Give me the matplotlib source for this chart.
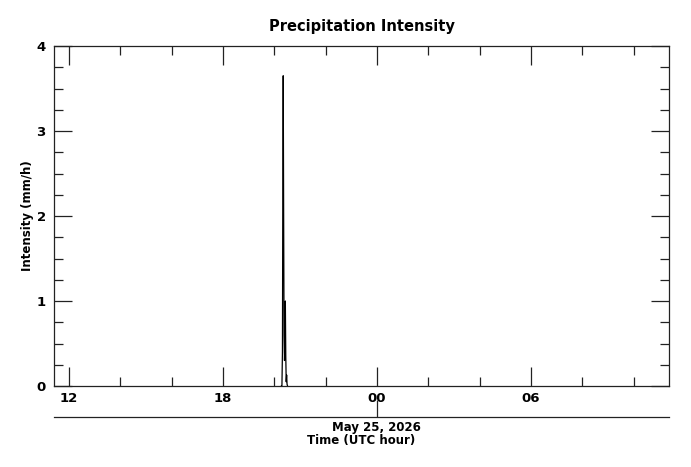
import matplotlib
matplotlib.use('Agg')
import matplotlib.pyplot as plt
from matplotlib.ticker import MultipleLocator, FixedLocator

# time in hours since May 24 00:00 UTC, intensity in mm/h
hours = [20.28, 20.30, 20.32, 20.333, 20.35, 20.367, 20.383, 20.40,
         20.417, 20.433, 20.45, 20.467, 20.483, 20.50, 20.52]
intensity = [0.0, 0.0, 0.4, 2.1, 3.65, 2.0, 0.6, 0.3,
             0.5, 1.0, 0.35, 0.05, 0.13, 0.02, 0.0]

x_range = (11.42, 35.38)
y_range = (0, 4)
major_hours = [12, 18, 24, 30]
major_labels = ['12', '18', '00', '06']
minor_hours = [14, 16, 20, 22, 26, 28, 32, 34]
date_label = 'May 25, 2026'

fig = plt.figure(figsize=(6.91, 4.67), dpi=100)
fig.patch.set_facecolor('white')

ax = fig.add_axes([54/691, 81/467, 615/691, 340/467])
ax.plot(hours, intensity, color='black', linewidth=0.9)
ax.set_xlim(*x_range)
ax.set_ylim(*y_range)

ax.xaxis.set_major_locator(FixedLocator(major_hours))
ax.set_xticklabels(major_labels)
ax.xaxis.set_minor_locator(FixedLocator(minor_hours))
ax.yaxis.set_major_locator(MultipleLocator(1))
ax.yaxis.set_minor_locator(MultipleLocator(0.25))

ax.tick_params(which='both', direction='in', top=True, right=True,
               color='#222222', width=0.9)
ax.tick_params(axis='x', which='major', length=13.5, pad=4)
ax.tick_params(axis='y', which='major', length=13, pad=6)
ax.tick_params(which='minor', length=6.5)
for lab in ax.get_xticklabels() + ax.get_yticklabels():
    lab.set_fontweight('bold')
    lab.set_fontsize(9.5)
for s in ax.spines.values():
    s.set_linewidth(0.9)
    s.set_color('#222222')

ax.set_title('Precipitation Intensity', fontsize=10.5, fontweight='bold', pad=11)
ax.set_ylabel('Intensity (mm/h)', fontsize=8.5, fontweight='bold', labelpad=2)

# date axis below
ax2 = fig.add_axes([54/691, 50/467, 615/691, 0.0001])
ax2.set_xlim(*x_range)
ax2.set_yticks([])
for k in ['top', 'left', 'right']:
    ax2.spines[k].set_visible(False)
ax2.spines['bottom'].set_linewidth(0.9)
ax2.spines['bottom'].set_color('#222222')
ax2.patch.set_alpha(0)
ax2.set_xticks([24])
ax2.set_xticklabels([date_label], fontsize=8.5, fontweight='bold')
ax2.tick_params(axis='x', direction='in', length=12, width=0.9,
                color='#222222', pad=3)
ax2.set_xlabel('Time (UTC hour)', fontsize=8.5, fontweight='bold', labelpad=0)

fig.savefig('out.png', dpi=100, facecolor='white')
